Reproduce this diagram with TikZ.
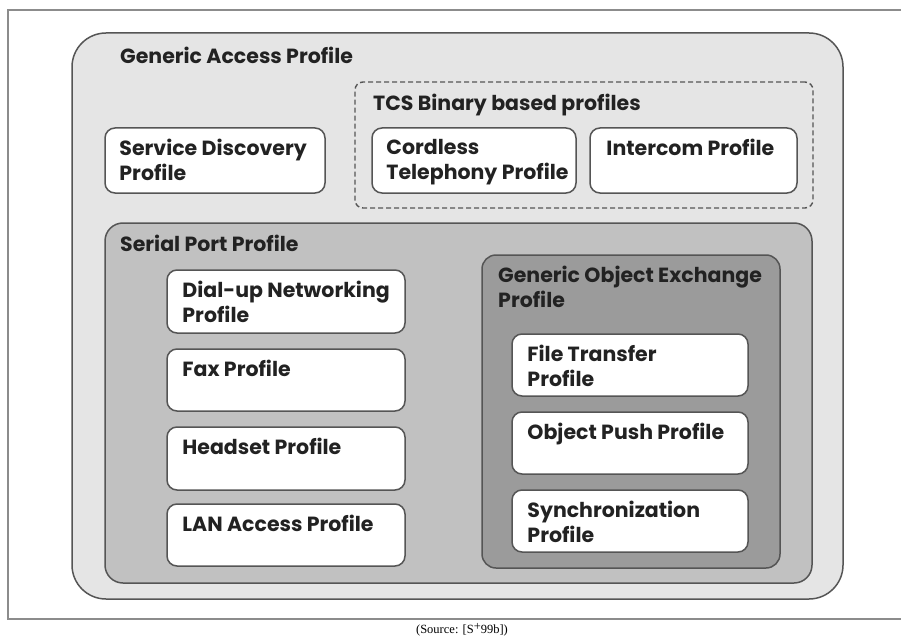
\documentclass[tikz,border=0pt]{standalone}
\usepackage{fontspec}
\setmainfont{Poppins}
\newfontfamily\srcfont{Liberation Serif}
\usepackage{tikz}
\definecolor{gapgray}{RGB}{229, 229, 229}
\definecolor{sppgray}{RGB}{193, 193, 193}
\definecolor{goepgray}{RGB}{155, 155, 155}
\definecolor{edgegray}{RGB}{85, 85, 85}
\definecolor{framegray}{RGB}{140, 140, 140}
\definecolor{inkgray}{RGB}{34, 34, 34}
\tikzset{
  gapbox/.style={draw = edgegray, fill = gapgray, line width = 1.5, rounded corners = 34},
  sppbox/.style={draw = edgegray, fill = sppgray, line width = 1.5, rounded corners = 18},
  goepbox/.style={draw = edgegray, fill = goepgray, line width = 1.5, rounded corners = 14},
  tcsbox/.style={draw = edgegray, dash pattern = on 5pt off 3pt, line width = 1.4, rounded corners = 8},
  profile/.style={draw = edgegray, fill = white, line width = 1.5, rounded corners = 10},
  ptext/.style={anchor = north west, inner sep = 0, align = left, text = inkgray,
    font = \bfseries\fontsize{20.5}{24.5}\selectfont}
}
\begin{document}
\begin{tikzpicture}[x = 1pt, y = -1pt]
			\useasboundingbox (0,0) rectangle (901,639);
			\draw [framegray, line width = 1.2] (901,10) -- (8,10) -- (8,619) -- (901,619);
			% outer profile
			\node (gap) at (457.5,316) [gapbox, minimum width = 771, minimum height = 566] {};
			\node (gapt) at (120,47) [ptext] {Generic Access Profile};
			\node (sdp) at (215,160.5) [profile, minimum width = 220, minimum height = 65] {};
			\node (sdpt) at ([shift={(15,12)}]sdp.north west) [ptext] {Service Discovery\\Profile};
			% TCS group
			\node (tcs) at (584,145) [tcsbox, minimum width = 458, minimum height = 126] {};
			\node (tcst) at (373,94) [ptext] {TCS Binary based profiles};
			\node (ctp) at (474,160.5) [profile, minimum width = 204, minimum height = 65] {};
			\node (ctpt) at ([shift={(15,12)}]ctp.north west) [ptext] {Cordless\\Telephony Profile};
			\node (icp) at (693.5,160.5) [profile, minimum width = 207, minimum height = 65] {};
			\node (icpt) at ([shift={(17,12)}]icp.north west) [ptext] {Intercom Profile};
			% serial port profile
			\node (spp) at (458.5,403) [sppbox, minimum width = 707, minimum height = 360] {};
			\node (sppt) at (120,235) [ptext] {Serial Port Profile};
			\node (dun) at (286,301.5) [profile, minimum width = 238, minimum height = 63] {};
			\node (dunt) at ([shift={(16,12)}]dun.north west) [ptext] {Dial-up Networking\\Profile};
			\node (fax) at (286,380) [profile, minimum width = 238, minimum height = 62] {};
			\node (faxt) at ([shift={(16,12)}]fax.north west) [ptext] {Fax Profile};
			\node (hsp) at (286,458.5) [profile, minimum width = 238, minimum height = 63] {};
			\node (hspt) at ([shift={(16,12)}]hsp.north west) [ptext] {Headset Profile};
			\node (lap) at (286,535) [profile, minimum width = 238, minimum height = 62] {};
			\node (lapt) at ([shift={(16,12)}]lap.north west) [ptext] {LAN Access Profile};
			% object exchange
			\node (goep) at (631,411.5) [goepbox, minimum width = 298, minimum height = 313] {};
			\node (goept) at (498,266) [ptext] {Generic Object Exchange\\Profile};
			\node (ftp) at (630,365) [profile, minimum width = 236, minimum height = 62] {};
			\node (ftpt) at ([shift={(16,12)}]ftp.north west) [ptext] {File Transfer\\Profile};
			\node (opp) at (630,443) [profile, minimum width = 236, minimum height = 62] {};
			\node (oppt) at ([shift={(16,12)}]opp.north west) [ptext] {Object Push Profile};
			\node (syn) at (630,521) [profile, minimum width = 236, minimum height = 62] {};
			\node (synt) at ([shift={(16,12)}]syn.north west) [ptext] {Synchronization\\Profile};
			\node (src) at (462,630) [font = \srcfont\fontsize{12.5}{14}\selectfont] {(Source: [S\raisebox{3pt}{+}99b])};
\end{tikzpicture}
\end{document}
